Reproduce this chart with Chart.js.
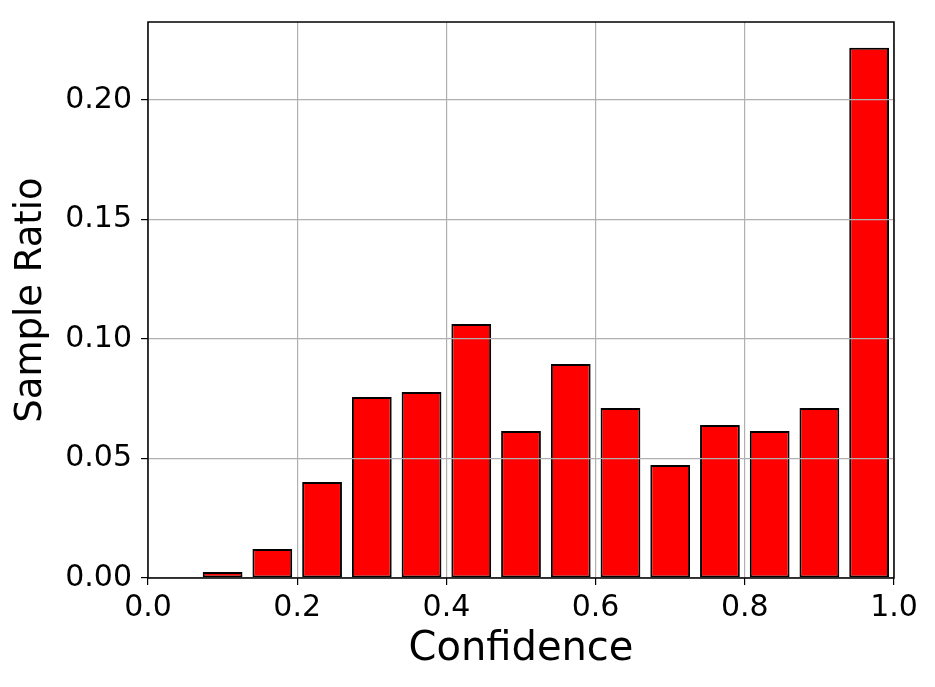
<!DOCTYPE html>
<html lang="en">
<head>
    <meta charset="UTF-8">
    <title>Sample Ratio vs Confidence</title>
    <script src="https://cdn.jsdelivr.net/npm/chart.js"></script>
    <style>
        body {
            margin: 0;
            background: #fff;
        }

        #chartBox {
            width: 935px;
            height: 687px;
        }
    </style>
</head>
<body>
    <div id="chartBox">
        <canvas id="ratioChart" width="935" height="687"></canvas>
    </div>

    <script>
        // 15 equal confidence bins over [0, 1]
        const binCount = 15;
        const binCenters = Array.from({ length: binCount }, (_, i) => (i + 0.5) / binCount);
        const sampleRatio = [0, 0.0025, 0.0121, 0.0402, 0.0757, 0.0778, 0.1063, 0.0615,
                             0.0895, 0.0711, 0.0473, 0.0640, 0.0615, 0.0711, 0.2218];
        const xTicks = [0, 0.2, 0.4, 0.6, 0.8, 1.0];
        const yTicks = [0, 0.05, 0.10, 0.15, 0.20];

        const fontName = "'DejaVu Sans', sans-serif";

        // matplotlib-style box around the plot area
        const frame = {
            id: 'frame',
            afterDraw(chart) {
                const { ctx, chartArea: a } = chart;
                ctx.save();
                ctx.strokeStyle = '#000';
                ctx.lineWidth = 1.5;
                ctx.strokeRect(a.left, a.top, a.right - a.left, a.bottom - a.top);
                ctx.restore();
            }
        };

        const ctx = document.getElementById('ratioChart').getContext('2d');
        new Chart(ctx, {
            type: 'bar',
            data: {
                datasets: [{
                    data: binCenters.map((x, i) => ({ x: x, y: sampleRatio[i] })),
                    backgroundColor: '#ff0000',
                    borderColor: '#000',
                    borderWidth: 2,
                    borderSkipped: false,
                    barPercentage: 0.8,
                    categoryPercentage: 1.0
                }]
            },
            options: {
                responsive: false,
                animation: false,
                layout: {
                    padding: { left: 0, right: 41, top: 22, bottom: 0 }
                },
                plugins: {
                    legend: { display: false },
                    tooltip: { enabled: false }
                },
                scales: {
                    x: {
                        type: 'linear',
                        min: 0,
                        max: 1,
                        offset: false,
                        afterFit: (scale) => {
                            scale.height = 109;
                            scale.paddingLeft = 0;
                            scale.paddingRight = 0;
                        },
                        afterBuildTicks: (scale) => { scale.ticks = xTicks.map(v => ({ value: v })); },
                        grid: {
                            offset: false,
                            color: '#b0b0b0',
                            lineWidth: 1.2,
                            tickColor: '#000',
                            tickLength: 7,
                            z: 1
                        },
                        border: { display: false },
                        ticks: {
                            color: '#000',
                            padding: 5,
                            maxRotation: 0,
                            font: { family: fontName, size: 30 },
                            callback: (v) => Number(v).toFixed(1)
                        },
                        title: {
                            display: true,
                            text: 'Confidence',
                            color: '#000',
                            font: { family: fontName, size: 40 },
                            padding: { top: 0, bottom: 13 }
                        }
                    },
                    y: {
                        min: 0,
                        max: 0.2326,
                        afterFit: (scale) => {
                            scale.width = 148;
                            scale.paddingTop = 0;
                            scale.paddingBottom = 0;
                        },
                        afterBuildTicks: (scale) => { scale.ticks = yTicks.map(v => ({ value: v })); },
                        grid: {
                            color: '#b0b0b0',
                            lineWidth: 1.2,
                            tickColor: '#000',
                            tickLength: 7,
                            z: 1
                        },
                        border: { display: false },
                        ticks: {
                            color: '#000',
                            padding: 9,
                            font: { family: fontName, size: 30 },
                            callback: (v) => Number(v).toFixed(2)
                        },
                        title: {
                            display: true,
                            text: 'Sample Ratio',
                            color: '#000',
                            font: { family: fontName, size: 37 },
                            padding: { top: 9, bottom: 0 }
                        }
                    }
                }
            },
            plugins: [frame]
        });
    </script>
</body>
</html>
